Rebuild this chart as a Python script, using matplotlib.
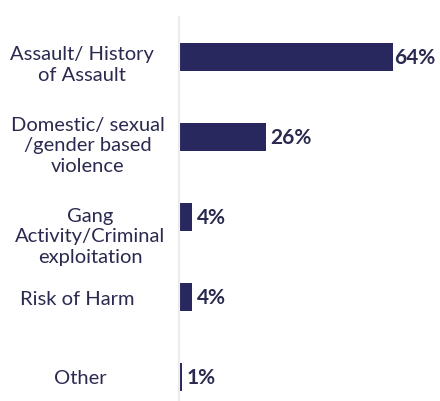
import matplotlib.pyplot as plt
from matplotlib.transforms import ScaledTranslation

categories = [
    'Assault/ History\nof Assault',
    'Domestic/ sexual\n/gender based\nviolence',
    'Gang\nActivity/Criminal\nexploitation',
    'Risk of Harm',
    'Other',
]
values = [64, 26, 4, 4, 1]
value_labels = ['64%', '26%', '4%', '4%', '1%']

BAR = '#28285e'
TEXT = '#2a2a50'

fig = plt.figure(figsize=(4.4, 4.02), dpi=100)
ax = fig.add_axes([179 / 440, 0, 1 - 179 / 440, 1 - 18 / 402])

pos = list(range(len(categories)))
ax.barh(pos, values, height=0.35, color=BAR)
ax.set_xlim(0, 78)
ax.set_ylim(4.3, -0.5)

for s in ['top', 'right', 'bottom']:
    ax.spines[s].set_visible(False)
ax.spines['left'].set_color('#ececec')
ax.spines['left'].set_linewidth(1.5)
ax.set_xticks([])
ax.set_yticks([])

# label placement in pixels (reference labels are not all centred on bars)
shifts = [-7, -8, -19, -2, -1]
centres = [-0.37, -0.35, -0.34, -0.39, -0.38]
for i, (lab, dy, cx) in enumerate(zip(categories, shifts, centres)):
    tr = ax.get_yaxis_transform() + ScaledTranslation(0, dy / 100, fig.dpi_scale_trans)
    ax.text(cx, i, lab, transform=tr, ha='center', va='center',
            multialignment='center', fontsize=14.5, fontfamily='Lato',
            fontweight='normal', color=TEXT, linespacing=1.22)

for i, (v, lab) in enumerate(zip(values, value_labels)):
    ax.annotate(lab, (v, i), xytext=(1 if i == 0 else 3, 0), textcoords='offset points',
                ha='left', va='center', fontsize=15, fontweight='bold',
                fontfamily='Lato', color=TEXT)

fig.savefig('out.png', dpi=100)
